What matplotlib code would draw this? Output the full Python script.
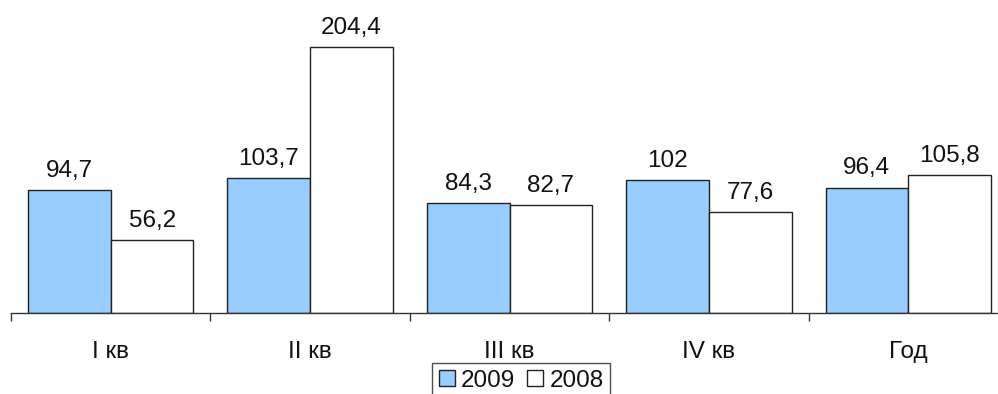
import matplotlib
matplotlib.use("Agg")
import matplotlib.pyplot as plt
import numpy as np
from matplotlib.patches import Patch

categories = ["I кв", "II кв", "III кв", "IV кв", "Год"]
values_2009 = [94.7, 103.7, 84.3, 102, 96.4]
values_2008 = [56.2, 204.4, 82.7, 77.6, 105.8]
labels_2009 = ["94,7", "103,7", "84,3", "102", "96,4"]
labels_2008 = ["56,2", "204,4", "82,7", "77,6", "105,8"]
series_names = ["2009", "2008"]

plt.rcParams['font.family'] = ['Liberation Sans', 'DejaVu Sans']

W, H = 998, 394
fig = plt.figure(figsize=(W / 100, H / 100), dpi=100)

ymax = 240
px_per_unit = 266 / 204.4
ax_left, ax_right = 11, 1008
base_y = 313
ax_h = ymax * px_per_unit
ax = fig.add_axes([ax_left / W, (H - base_y) / H, (ax_right - ax_left) / W, ax_h / H])

x = np.arange(len(categories))
bw = 0.415
blue = "#99CCFF"
edge = "#222222"
b1 = ax.bar(x - bw / 2, values_2009, bw, color=blue, edgecolor=edge, linewidth=1.0)
b2 = ax.bar(x + bw / 2, values_2008, bw, color="white", edgecolor=edge, linewidth=1.0)

fs = 17.5
for bars, labs in ((b1, labels_2009), (b2, labels_2008)):
    for rect, lab in zip(bars, labs):
        ax.annotate(lab, (rect.get_x() + rect.get_width() / 2, rect.get_height()),
                    xytext=(0, 9.5), textcoords="offset points", ha="center",
                    va="baseline", fontsize=fs, color="#111111")

ax.set_xlim(-0.5, len(categories) - 0.5)
ax.set_ylim(0, ymax)
for s in ["top", "right", "left"]:
    ax.spines[s].set_visible(False)
ax.spines["bottom"].set_color("#333333")
ax.spines["bottom"].set_linewidth(1.0)
ax.set_yticks([])
ax.set_xticks(x)
ax.set_xticklabels(categories, fontsize=fs, color="#111111")
ax.tick_params(axis="x", which="major", length=0, pad=20)
ax.set_xticks(np.arange(-0.5, len(categories), 1.0), minor=True)
ax.tick_params(axis="x", which="minor", length=6, width=1.0, color="#333333", direction="out")
ax.patch.set_visible(False)

handles = [Patch(facecolor=blue, edgecolor=edge, linewidth=1.0),
           Patch(facecolor="white", edgecolor=edge, linewidth=1.0)]
leg = fig.legend(handles, series_names, loc="upper center",
                 bbox_to_anchor=(521 / W, 1 - 363 / H), ncol=2, fontsize=fs,
                 frameon=True, fancybox=False, handlelength=0.66, handleheight=0.66,
                 handletextpad=0.25, columnspacing=0.5, borderpad=0.28, borderaxespad=0)
leg.get_frame().set_edgecolor(edge)
leg.get_frame().set_linewidth(1.0)
for t in leg.get_texts():
    t.set_color("#111111")

fig.savefig("out.png", dpi=100)
